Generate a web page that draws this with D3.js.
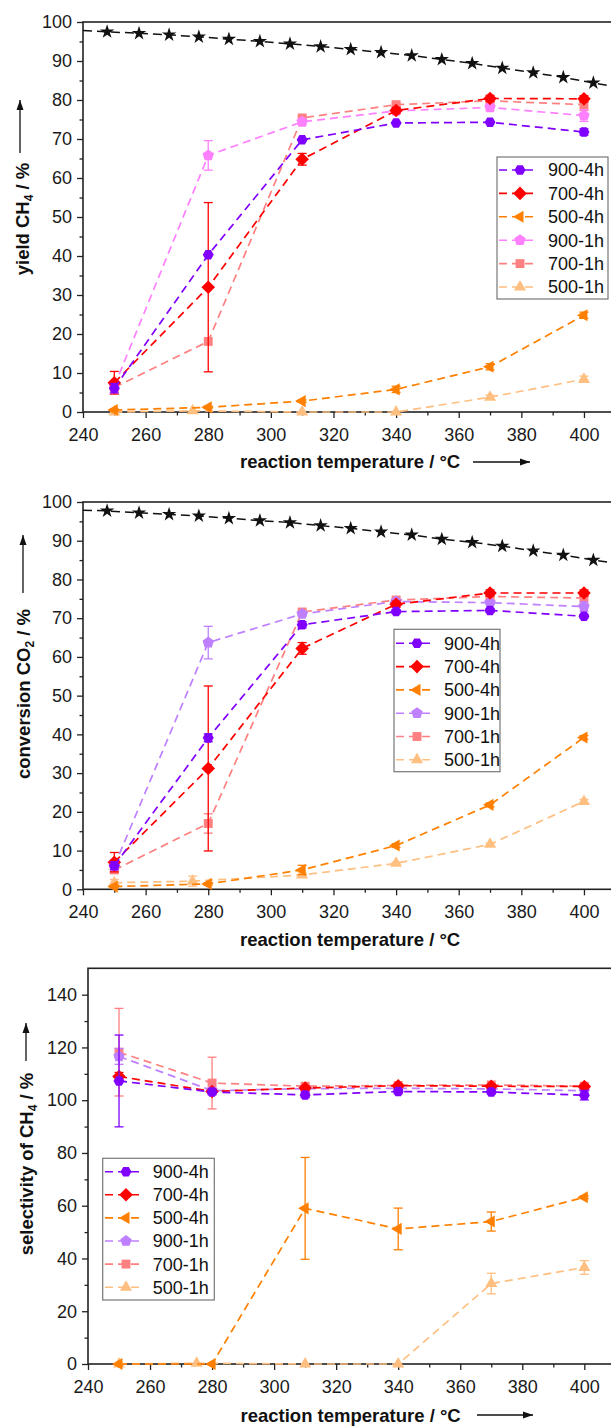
<!DOCTYPE html>
<html><head><meta charset="utf-8">
<script src="https://cdn.jsdelivr.net/npm/d3@7"></script>
<style>
html,body{margin:0;padding:0;background:#fff;}
svg{display:block;}
text{font-family:"Liberation Sans",Arial,sans-serif;}
</style></head><body>
<svg id="chart" width="611" height="1427"></svg>
<script>
// ---------------- DATA ----------------
const seriesNames = ["900-4h","700-4h","500-4h","900-1h","700-1h","500-1h"];
const temps = [250,280,310,340,370,400];
const temps500_1h = [250,275,310,340,370,400];
const xTicks = [240,260,280,300,320,340,360,380,400];
const yTicks100 = [0,10,20,30,40,50,60,70,80,90,100];
const yTicks150 = [0,20,40,60,80,100,120,140];

// equilibrium curve (black stars)
const eqT    = [240,247.7,257.9,267.5,277.0,286.6,296.5,306.1,315.9,325.5,335.2,345.0,354.6,364.3,373.9,383.8,393.4,403.0,410];
const eqYield= [97.8,97.5,97.1,96.7,96.2,95.6,95.05,94.4,93.7,93.0,92.2,91.4,90.4,89.4,88.2,87.0,85.8,84.4,83.4];
const eqConv = [97.9,97.7,97.2,96.8,96.4,95.8,95.2,94.7,93.9,93.2,92.3,91.5,90.4,89.6,88.6,87.4,86.3,85.0,84.2];

// panel 1: yield CH4 / %
const yield900_4h = [6.1,40.3,69.8,74.1,74.3,71.8];
const yield700_4h = [7.5,32.0,64.8,77.3,80.4,80.3];
const yield500_4h = [0.5,1.2,2.8,5.8,11.6,24.8];
const yield900_1h = [6.6,65.8,74.4,77.2,78.1,76.0];
const yield700_1h = [6.3,18.1,75.4,78.8,79.8,78.8];
const yield500_1h = [0,0.3,0,0,3.8,8.4];
const yieldErr900_4h = [1.2,0,0,0,0,0.8];
const yieldErr700_4h = [2.9,21.7,1.5,0.8,0.8,0.8];
const yieldErr500_4h = [0.3,0.3,0.3,0.8,0.8,0.8];
const yieldErr900_1h = [0.5,3.8,0.8,0.5,0.8,1.5];
const yieldErr700_1h = [0.8,0,0.5,0.5,0.5,1.5];
const yieldErr500_1h = [0,0,0,0,0.5,0.8];

// panel 2: conversion CO2 / %
const conv900_4h = [6.1,39.1,68.3,71.7,72.0,70.5];
const conv700_4h = [7.0,31.2,62.2,73.6,76.5,76.5];
const conv500_4h = [0.7,1.4,5.0,11.3,21.8,39.2];
const conv900_1h = [6.0,63.7,71.1,74.3,74.0,73.0];
const conv700_1h = [5.0,17.0,71.6,74.7,75.6,75.2];
const conv500_1h = [1.7,2.1,3.7,6.7,11.6,22.7];
const convErr900_4h = [1.0,1.0,0.8,0.5,0.5,0.5];
const convErr700_4h = [2.5,21.3,1.5,0.8,0.8,0.8];
const convErr500_4h = [0.3,0.3,1.2,0.5,0.5,0.5];
const convErr900_1h = [0.5,4.2,0.5,0.5,0.5,1.2];
const convErr700_1h = [0.8,2.5,0.5,0.5,0.8,1.5];
const convErr500_1h = [0.8,1.3,0.5,0.3,0.3,0.5];

// panel 3: selectivity of CH4 / %
const sel900_4h = [107.3,103.1,102.0,103.3,103.1,101.9];
const sel700_4h = [109.0,103.3,104.6,105.5,105.3,105.2];
const sel500_4h = [0,0,59.0,51.2,54.0,63.2];
const sel900_1h = [116.6,103.6,104.4,104.5,104.3,103.6];
const sel700_1h = [118.2,106.5,105.3,105.6,105.8,105.3];
const sel500_1h = [0,0.3,0,0,30.5,36.6];
const selErr900_4h = [17.4,1.0,1.0,0.8,0.8,1.8];
const selErr700_4h = [1.5,0.8,0.8,0.5,0.5,0.8];
const selErr500_4h = [0,0,19.3,7.9,3.6,0.5];
const selErr900_1h = [3.0,1.0,1.0,0.5,0.8,1.0];
const selErr700_1h = [16.6,9.8,1.0,0.5,0.5,0.8];
const selErr500_1h = [0,0,0,0,3.9,2.6];

// ---------------- STYLE ----------------
const colorsA = ["#8000FF","#FF0000","#FF8000","#FF80FF","#FF8080","#FFBF80"];
const colorsB = ["#8000FF","#FF0000","#FF8000","#BF80FF","#FF8080","#FFBF80"];
const shapes = ["hex","diamond","ltri","pent","square","utri"];

function poly(n, r, rot){
  const p=[];
  for(let k=0;k<n;k++){const a=rot+2*Math.PI*k/n;p.push([r*Math.cos(a),r*Math.sin(a)]);}
  return "M"+p.map(q=>q[0].toFixed(2)+","+q[1].toFixed(2)).join("L")+"Z";
}
const shapePath = {
  hex: poly(6,5.5,0),
  diamond: poly(4,6.8,-Math.PI/2),
  ltri: poly(3,7,Math.PI),
  pent: poly(5,6,-Math.PI/2),
  square: poly(4,6.3,Math.PI/4),
  utri: poly(3,7,-Math.PI/2)
};
const starPath = d3.symbol().type(d3.symbolStar).size(64)();

const svg = d3.select("#chart");
svg.append("rect").attr("width",611).attr("height",1427).attr("fill","#fff");

const panels = [
  {top:22, bottom:412, left:83, pxDeg:3.131, yMax:100, yTicks:yTicks100, yMinorStep:5,
   colors:colorsA, eq:eqYield,
   ys:[yield900_4h,yield700_4h,yield500_4h,yield900_1h,yield700_1h,yield500_1h],
   es:[yieldErr900_4h,yieldErr700_4h,yieldErr500_4h,yieldErr900_1h,yieldErr700_1h,yieldErr500_1h],
   ytitle:["yield CH","4"," / %"], ytBase:28.5, ytCenter:219, arrowX:20, arrowTip:100, arrowBase:153,
   xtBase:468, xtX:240, xArrow:[473,530,462],
   legend:{x0:497,x1:608,y0:157,y1:299,row0:170,dy:23.4,l0:499,l1:535,m:520,tx:548}},
  {top:502, bottom:889.3, left:83, pxDeg:3.131, yMax:100, yTicks:yTicks100, yMinorStep:5,
   colors:colorsB, eq:eqConv,
   ys:[conv900_4h,conv700_4h,conv500_4h,conv900_1h,conv700_1h,conv500_1h],
   es:[convErr900_4h,convErr700_4h,convErr500_4h,convErr900_1h,convErr700_1h,convErr500_1h],
   ytitle:["conversion CO","2"," / %"], ytBase:29.5, ytCenter:694, arrowX:23, arrowTip:535, arrowBase:593,
   xtBase:946, xtX:240, xArrow:null,
   legend:{x0:394,x1:500,y0:629.3,y1:771.7,row0:643.3,dy:23.3,l0:396,l1:430,m:417,tx:444}},
  {top:968.3, bottom:1364, left:88, pxDeg:3.102, yMax:150, yTicks:yTicks150, yMinorStep:10,
   colors:colorsB, eq:null,
   ys:[sel900_4h,sel700_4h,sel500_4h,sel900_1h,sel700_1h,sel500_1h],
   es:[selErr900_4h,selErr700_4h,selErr500_4h,selErr900_1h,selErr700_1h,selErr500_1h],
   ytitle:["selectivity of CH","4"," / %"], ytBase:33, ytCenter:1164, arrowX:26, arrowTip:1023, arrowBase:1061,
   xtBase:1422, xtX:240.5, xArrow:[477,533,1415],
   legend:{x0:102.7,x1:214.3,y0:1158.3,y1:1300,row0:1171.7,dy:23.1,l0:105,l1:140,m:126,tx:152.7}}
];

const defs = svg.append("defs");
defs.append("marker").attr("id","ah").attr("viewBox","0 0 10 10").attr("refX",10).attr("refY",5)
  .attr("markerWidth",10).attr("markerHeight",10).attr("markerUnits","userSpaceOnUse").attr("orient","auto")
  .append("path").attr("d","M0,1.5L10,5L0,8.5Z").attr("fill","#111");

panels.forEach((P,pi)=>{
  const x = d3.scaleLinear().domain([240,410]).range([P.left, P.left+170*P.pxDeg]);
  const y = d3.scaleLinear().domain([0,P.yMax]).range([P.bottom,P.top]);
  const g = svg.append("g");

  // minor ticks
  const minorX = d3.range(250,411,20);
  const minorY = d3.range(P.yMinorStep, P.yMax, P.yMinorStep*2);
  const ax = g.append("g").attr("transform",`translate(0,${P.bottom})`)
     .call(d3.axisBottom(x).tickValues(minorX).tickSize(3.5).tickFormat(""));
  const ay = g.append("g").attr("transform",`translate(${P.left},0)`)
     .call(d3.axisLeft(y).tickValues(minorY).tickSize(3.5).tickFormat(""));
  const bx = g.append("g").attr("transform",`translate(0,${P.bottom})`)
     .call(d3.axisBottom(x).tickValues(xTicks).tickSize(6).tickPadding(10));
  const by = g.append("g").attr("transform",`translate(${P.left},0)`)
     .call(d3.axisLeft(y).tickValues(P.yTicks).tickSize(6).tickPadding(5));
  [ax,ay,bx,by].forEach(a=>{a.select(".domain").remove();
     a.selectAll("line").attr("stroke","#222").attr("stroke-width",1.3);
     a.selectAll("text").attr("font-size",18).attr("fill","#1a1a1a")
       .attr("font-family","'Liberation Sans',Arial,sans-serif");});

  // frame
  g.append("rect").attr("x",P.left).attr("y",P.top)
   .attr("width",170*P.pxDeg).attr("height",P.bottom-P.top)
   .attr("fill","none").attr("stroke","#222").attr("stroke-width",1.6);

  const line = d3.line().x(d=>x(d[0])).y(d=>y(d[1]));

  // equilibrium curve
  if(P.eq){
    const pts = eqT.map((t,i)=>[t,P.eq[i]]);
    g.append("path").attr("d",line(pts)).attr("fill","none").attr("stroke","#111")
     .attr("stroke-width",1.5).attr("stroke-dasharray","9,5");
    g.selectAll(null).data(pts.slice(1,pts.length-1)).enter().append("path")
     .attr("d",starPath).attr("transform",d=>`translate(${x(d[0])},${y(d[1])})`).attr("fill","#111");
  }

  // series (draw 1h first so 4h on top)
  const order=[5,4,3,2,1,0];
  order.forEach(si=>{
    const T = si===5 ? temps500_1h : temps;
    const pts = T.map((t,i)=>[t,P.ys[si][i],P.es[si][i]]);
    const c = P.colors[si];
    g.append("path").attr("d",line(pts)).attr("fill","none").attr("stroke",c)
      .attr("stroke-width",1.7).attr("stroke-dasharray","8,5");
    pts.filter(d=>d[2]>0).forEach(d=>{
      const xx=x(d[0]), y1=y(d[1]-d[2]), y2=y(d[1]+d[2]);
      g.append("line").attr("x1",xx).attr("x2",xx).attr("y1",y1).attr("y2",y2).attr("stroke",c).attr("stroke-width",1.3);
      [y1,y2].forEach(yy=>g.append("line").attr("x1",xx-4.5).attr("x2",xx+4.5).attr("y1",yy).attr("y2",yy)
        .attr("stroke",c).attr("stroke-width",1.3));
    });
    g.selectAll(null).data(pts).enter().append("path").attr("d",shapePath[shapes[si]])
      .attr("transform",d=>`translate(${x(d[0])},${y(d[1])})`).attr("fill",c);
  });

  // legend
  const L = P.legend;
  g.append("rect").attr("x",L.x0).attr("y",L.y0).attr("width",L.x1-L.x0).attr("height",L.y1-L.y0)
    .attr("fill","#fff").attr("stroke","#777").attr("stroke-width",1.2);
  seriesNames.forEach((nm,i)=>{
    const yy = L.row0 + i*L.dy, c=P.colors[i];
    g.append("line").attr("x1",L.l0).attr("x2",L.l1).attr("y1",yy).attr("y2",yy)
      .attr("stroke",c).attr("stroke-width",1.6).attr("stroke-dasharray","8,5");
    g.append("path").attr("d",shapePath[shapes[i]]).attr("transform",`translate(${L.m},${yy})`).attr("fill",c);
    g.append("text").attr("x",L.tx).attr("y",yy+6.4).attr("font-size",18).attr("fill","#111").text(nm);
  });

  // y title
  const yt = g.append("text").attr("transform",`translate(${P.ytBase},${P.ytCenter}) rotate(-90)`)
    .attr("text-anchor","middle").attr("font-size",18.5).attr("font-weight","bold").attr("fill","#111");
  yt.append("tspan").text(P.ytitle[0]);
  yt.append("tspan").attr("font-size",12).attr("dy",4).text(P.ytitle[1]);
  yt.append("tspan").attr("dy",-4).text(P.ytitle[2]);
  g.append("line").attr("x1",P.arrowX).attr("x2",P.arrowX).attr("y1",P.arrowBase).attr("y2",P.arrowTip)
    .attr("stroke","#111").attr("stroke-width",1.3).attr("marker-end","url(#ah)");

  // x title
  g.append("text").attr("x",P.xtX).attr("y",P.xtBase).attr("font-size",18.5).attr("font-weight","bold")
    .attr("fill","#111").text("reaction temperature / °C");
  if(P.xArrow){
    g.append("line").attr("x1",P.xArrow[0]).attr("x2",P.xArrow[1]).attr("y1",P.xArrow[2]).attr("y2",P.xArrow[2])
      .attr("stroke","#111").attr("stroke-width",1.3).attr("marker-end","url(#ah)");
  }
});
</script>
</body></html>
